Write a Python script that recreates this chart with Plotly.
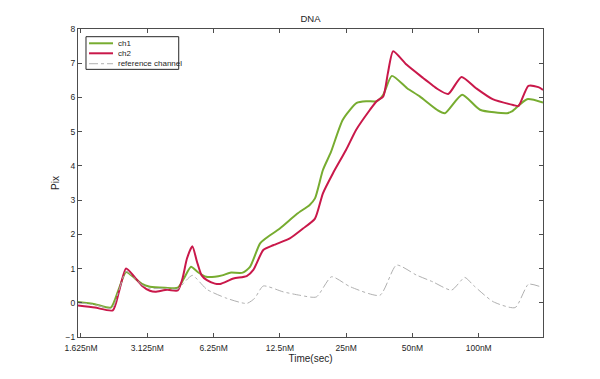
import plotly.graph_objects as go

# tick positions / labels
tick_pos = [0, 1, 2, 3, 4, 5, 6]
tick_labels = ["1.625nM", "3.125nM", "6.25nM", "12.5nM", "25nM", "50nM", "100nM"]

# ch1 (green)
ch1_x = [-0.045, 0.21, 0.45, 0.57, 0.68, 0.81, 0.92, 1.04, 1.27, 1.46, 1.55, 1.66, 1.76, 1.89,
         2.02, 2.13, 2.25, 2.44, 2.55, 2.7, 2.8, 3.0, 3.26, 3.45, 3.53, 3.65, 3.77, 3.95, 4.16,
         4.31, 4.46, 4.56, 4.69, 4.92, 5.11, 5.37, 5.49, 5.75, 6.02, 6.43, 6.5, 6.73, 6.97]
ch1_y = [0.02, -0.04, -0.14, 0.4, 0.9, 0.72, 0.55, 0.47, 0.44, 0.44, 0.7, 1.05, 0.9, 0.76,
         0.76, 0.8, 0.88, 0.88, 1.05, 1.73, 1.9, 2.17, 2.6, 2.86, 3.05, 3.88, 4.4, 5.35, 5.84,
         5.89, 5.89, 6.08, 6.63, 6.27, 6.03, 5.64, 5.54, 6.08, 5.64, 5.54, 5.59, 5.95, 5.85]

# ch2 (red)
ch2_x = [-0.045, 0.21, 0.48, 0.57, 0.68, 0.81, 0.92, 1.04, 1.12, 1.3, 1.46, 1.53, 1.6, 1.68,
         1.75, 1.82, 1.9, 2.02, 2.1, 2.3, 2.5, 2.6, 2.75, 2.9, 3.15, 3.35, 3.53, 3.65, 3.8,
         4.0, 4.15, 4.36, 4.46, 4.56, 4.63, 4.71, 4.91, 5.16, 5.26, 5.36, 5.54, 5.74, 5.96,
         6.21, 6.52, 6.6, 6.75, 6.9, 6.97]
ch2_y = [-0.08, -0.14, -0.22, 0.3, 1.0, 0.75, 0.5, 0.35, 0.32, 0.38, 0.36, 0.7, 1.3, 1.65,
         1.2, 0.8, 0.66, 0.56, 0.55, 0.71, 0.78, 0.96, 1.54, 1.68, 1.88, 2.17, 2.46, 3.2, 3.78,
         4.47, 5.05, 5.64, 5.89, 6.03, 6.71, 7.35, 6.96, 6.57, 6.42, 6.27, 6.1, 6.6, 6.27,
         5.95, 5.78, 5.75, 6.34, 6.3, 6.22]

# reference channel (gray dash-dot)
ref_x = [-0.045, 0.21, 0.47, 0.57, 0.68, 0.81, 0.92, 1.04, 1.27, 1.46, 1.56, 1.68, 1.9, 2.2,
         2.5, 2.62, 2.75, 3.05, 3.3, 3.55, 3.78, 4.06, 4.51, 4.76, 5.06, 5.31, 5.59, 5.79,
         5.92, 6.22, 6.55, 6.75, 6.93]
ref_y = [0.0, -0.06, -0.16, 0.35, 0.92, 0.72, 0.52, 0.42, 0.42, 0.40, 0.6, 0.8, 0.39, 0.13,
         -0.02, 0.13, 0.49, 0.32, 0.22, 0.17, 0.76, 0.47, 0.22, 1.1, 0.81, 0.61, 0.37, 0.74,
         0.51, 0.03, -0.14, 0.54, 0.47]

series_names = ["ch1", "ch2", "reference channel"]
series_colors = ["#77ac30", "#c9184a", "#b0b0b0"]

font = "Liberation Sans, Arial, sans-serif"
axcol = "#4d4d4d"
txtcol = "#262626"

fig = go.Figure()
fig.add_trace(go.Scatter(x=ch1_x, y=ch1_y, mode="lines", name=series_names[0], showlegend=False,
                         line=dict(color=series_colors[0], width=2, shape="spline", smoothing=0.6)))
fig.add_trace(go.Scatter(x=ch2_x, y=ch2_y, mode="lines", name=series_names[1], showlegend=False,
                         line=dict(color=series_colors[1], width=2, shape="spline", smoothing=0.6)))
fig.add_trace(go.Scatter(x=ref_x, y=ref_y, mode="lines", name=series_names[2], showlegend=False,
                         line=dict(color=series_colors[2], width=1, dash="dashdot", shape="spline", smoothing=0.6)))

# compact MATLAB-style legend box (paper coordinates)
shapes = [dict(type="rect", xref="paper", yref="paper", x0=0.0172, x1=0.2166, y0=0.869, y1=0.975,
               line=dict(color=txtcol, width=1), fillcolor="white", layer="above")]
annotations = []
leg_y = [0.9536, 0.9211, 0.8873]
leg_w = [2, 2, 1]
leg_dash = ["solid", "solid", "dashdot"]
for name, col, yy, w, d in zip(series_names, series_colors, leg_y, leg_w, leg_dash):
    shapes.append(dict(type="line", xref="paper", yref="paper", x0=0.0237, x1=0.0753, y0=yy, y1=yy,
                       line=dict(color=col, width=w, dash=d), layer="above"))
    annotations.append(dict(xref="paper", yref="paper", x=0.0811, y=yy, text=name, showarrow=False,
                            xanchor="left", yanchor="middle", font=dict(size=8, color=txtcol, family=font)))

fig.update_layout(
    width=600, height=379,
    margin=dict(l=70, r=65, t=21, b=50),
    paper_bgcolor="white", plot_bgcolor="white",
    font=dict(family=font, size=8.5, color=txtcol),
    title=dict(text="DNA", x=0.5, xref="paper", xanchor="center", y=0.971, yanchor="middle",
               font=dict(size=9.5, color=txtcol)),
    showlegend=False,
    shapes=shapes,
    annotations=annotations,
)
fig.update_xaxes(range=[-0.045, 6.97], tickmode="array", tickvals=tick_pos, ticktext=tick_labels,
                 showgrid=False, zeroline=False, showline=True, linecolor=axcol, linewidth=1,
                 mirror="ticks", ticks="inside", ticklen=4, tickcolor=axcol, ticklabelstandoff=3,
                 title=dict(text="Time(sec)", standoff=2, font=dict(size=10)))
fig.update_yaxes(range=[-1, 8], tickvals=list(range(-1, 9)),
                 showgrid=False, zeroline=False, showline=True, linecolor=axcol, linewidth=1,
                 mirror="ticks", ticks="inside", ticklen=4, tickcolor=axcol,
                 title=dict(text="Pix", standoff=4, font=dict(size=10)))

fig.write_html("out.html")
